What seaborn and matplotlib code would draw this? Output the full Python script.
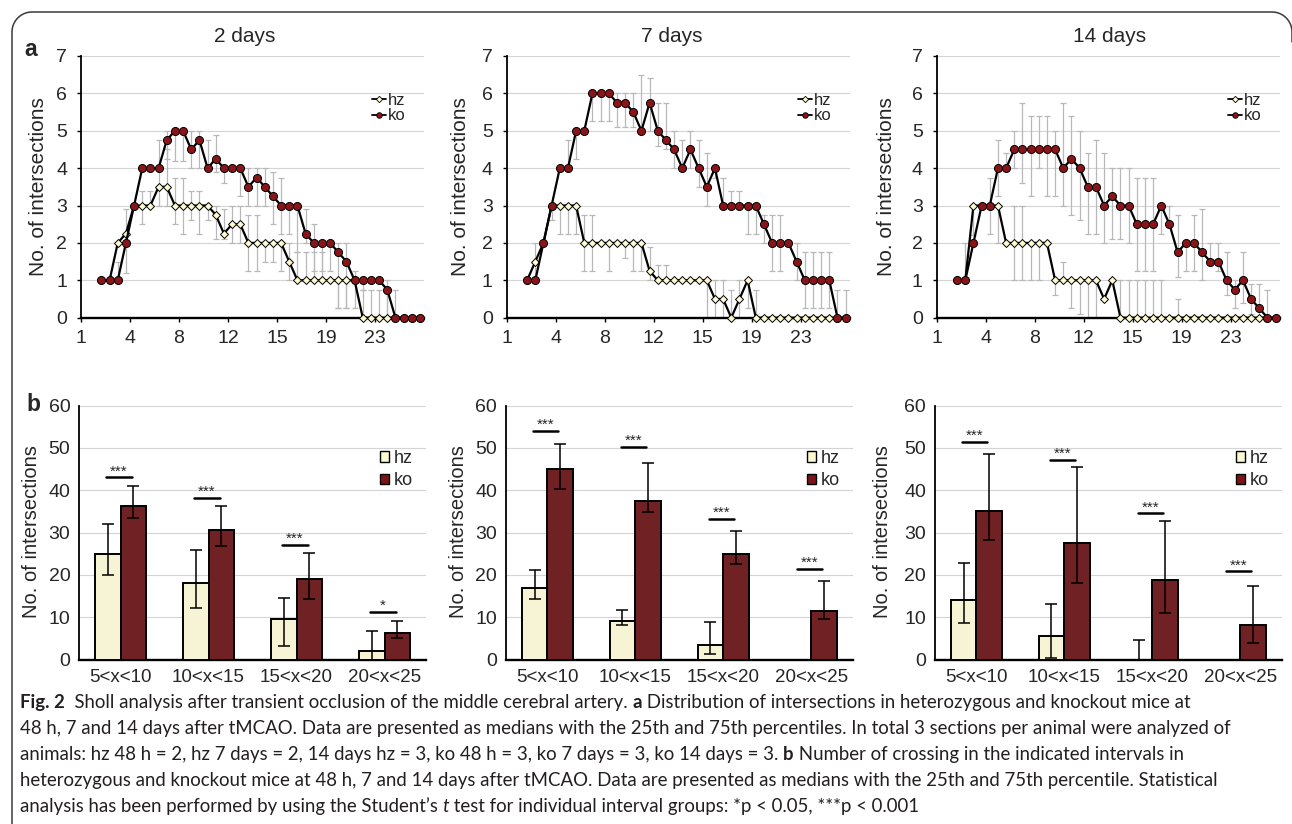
import numpy as np
import pandas as pd
import matplotlib
matplotlib.use('Agg')
import matplotlib.pyplot as plt
import seaborn as sns
from matplotlib.lines import Line2D
from matplotlib.patches import Patch

N = np.nan

# ---------------- data: panel a (Sholl profiles, medians + 25th/75th pct) ----
line_xticklabels = ['1', '4', '8', '12', '15', '19', '23']
panel_titles = ['2 days', '7 days', '14 days']

hz_2d = [1, 1, 2, 2.25, 3, 3, 3, 3.5, 3.5, 3,
         3, 3, 3, 3, 2.75, 2.25, 2.5, 2.5, 2, 2,
         2, 2, 2, 1.5, 1, 1, 1, 1, 1, 1,
         1, 1, 0, 0, 0, 0, 0, 0, 0, 0]
ko_2d = [1, 1, 1, 2, 3, 4, 4, 4, 4.75, 5,
         5, 4.5, 4.75, 4, 4.25, 4, 4, 4, 3.5, 3.75,
         3.5, 3.25, 3, 3, 3, 2.25, 2, 2, 2, 1.75,
         1.5, 1, 1, 1, 1, 0.75, 0, 0, 0, 0]
hz_2d_lo = [N, N, N, 1.2, N, 2.5, 3, 3, 3, 2.5,
            2.25, 2.6, 2.25, 2.6, 2.1, 2.1, 2, 2, 1.25, 1.25,
            1.5, 1.5, 1.25, 1, 1, 1, 1, 1, N, 0.25,
            0.25, N, 0, 0, 0, 0, N, N, N, N]
hz_2d_hi = [N, N, N, 2.9, N, 3.4, 3.4, 4.75, 4.5, 3.75,
            3.75, 3.4, 3.4, 3, 3, 2.9, 3, 3, 2.75, 2.75,
            2, 2, 2, 2, 1.75, 1.75, 1.75, 1.75, N, 1,
            1, N, 0.75, 0.75, 0.75, 0.75, N, N, N, N]
ko_2d_lo = [N, N, 1, N, N, N, N, N, 4.25, 4.2,
            4.2, 4, 4, 4, 3.9, 3.6, N, 3.25, 3, 3,
            3, 2.5, 2.25, 2.25, 1.75, 2, 1.25, 1.25, 1.25, 0.25,
            0.25, 0.25, 0.75, N, N, 0, 0, N, N, N]
ko_2d_hi = [N, N, 1.5, N, N, N, N, N, 5, 5,
            5, 5, 5, 4.75, 4.9, 4, N, 4, 4, 4,
            4, 3.9, 3.75, 3, 3, 2.9, 2.5, 2, 2, 2,
            2, 1.25, 1, N, N, 1, 0.75, N, N, N]

hz_7d = [1, 1.5, 2, 3, 3, 3, 3, 2, 2, 2,
         2, 2, 2, 2, 2, 1.25, 1, 1, 1, 1,
         1, 1, 1, 0.5, 0.5, 0, 0.5, 1, 0, 0,
         0, 0, 0, 0, 0, 0, 0, 0, 0, 0]
ko_7d = [1, 1, 2, 3, 4, 4, 5, 5, 6, 6,
         6, 5.75, 5.75, 5.5, 5, 5.75, 5, 4.75, 4.5, 4,
         4.5, 4, 3.5, 4, 3, 3, 3, 3, 3, 2.5,
         2, 2, 2, 1.5, 1, 1, 1, 1, 0, 0]
hz_7d_lo = [N, 1, N, 2.6, 2.25, 2.25, 2.25, 1.25, 1.25, N,
            1.25, N, 1.6, 1.25, 1.25, 1, 1, 1, N, N,
            N, N, 0, 0, 0, 0, 0, 0.25, 0, N,
            N, N, N, N, N, N, N, N, N, N]
hz_7d_hi = [N, 2, N, 3, 3, 3, 3, 2.75, 2.75, N,
            2, N, 2, 2, 2, 1.9, 1.4, 1.4, N, N,
            N, N, 1, 1, 1, 0.75, 1, 1, 0.75, N,
            N, N, N, N, N, N, N, N, N, N]
ko_7d_lo = [N, N, N, N, N, 4, 4.25, N, 5.25, 5.25,
            5.25, 5.1, 5.1, 5.1, 5, 5, 4.6, 4.5, 4, 4,
            4, 3.5, 3, 3.75, 3, 3, 3, 2.25, 2.25, 2,
            1.25, 1.25, 2, 1, 0.25, 0.25, 0.25, 0.25, 0, 0]
ko_7d_hi = [N, N, N, N, N, 4.75, 5, N, 6, 6,
            6, 6, 6, 6, 6.5, 6.4, 5.75, 5.75, 5, 4.75,
            5, 4.75, 4.4, 4, 3.75, 3.4, 3.4, 3, 3, 2.75,
            2.75, 2.75, 2, 2, 1.75, 1.75, 1.75, 1.75, 0.75, 0.75]

hz_14d = [1, 1, 3, 3, 3, 3, 2, 2, 2, 2,
          2, 2, 1, 1, 1, 1, 1, 1, 0.5, 1,
          0, 0, 0, 0, 0, 0, 0, 0, 0, 0,
          0, 0, 0, 0, 0, 0, 0, 0, 0, 0]
ko_14d = [1, 1, 2, 3, 3, 4, 4, 4.5, 4.5, 4.5,
          4.5, 4.5, 4.5, 4, 4.25, 4, 3.5, 3.5, 3, 3.25,
          3, 3, 2.5, 2.5, 2.5, 3, 2.5, 1.75, 2, 2,
          1.75, 1.5, 1.5, 1, 0.75, 1, 0.5, 0.25, 0, 0]
hz_14d_lo = [N, N, 2.2, N, N, 2, N, 1, 1, 1,
             1, N, 0.6, 1, 0.25, 0.1, 0, 0, N, N,
             0, 0, 0, 0, 0, 0, N, 0, N, N,
             N, N, N, N, N, N, N, N, N, N]
hz_14d_hi = [N, N, 3, N, N, 3, N, 3, 3, 2,
             2, N, 1, 1.5, 1, 1, 1, 1, N, N,
             1, 1, 1, 1, 1, 1, N, 0.5, N, N,
             N, N, N, N, N, N, N, N, N, N]
ko_14d_lo = [N, 1, N, N, 2.25, 3.25, 4, 4, 3.6, 3.25,
             4, 3.25, 3.25, 3, 2.75, 2.6, 2.25, 2.25, 2, 2.1,
             2.1, 2, 1.25, 1.25, 1.25, 2.25, 2.5, 1.1, 1.25, 1.25,
             1, 1.5, 1.25, 0.6, 0.25, 0.4, 0.1, 0, 0, N]
ko_14d_hi = [N, 2, N, N, 3.75, 4.75, 4.4, 5, 5.75, 5.4,
             5.4, 5.4, 5, 5.75, 5.4, 5, 4.4, 4.75, 4.4, 4,
             4, 4, 3.75, 3.75, 3.75, 3, 3, 2.75, 2, 2.75,
             2.9, 2, 2, 1.75, 1, 1.75, 0.9, 0.9, 0.75, N]

# ---------------- data: panel b (crossings per interval) --------------------
intervals = ['5<x<10', '10<x<15', '15<x<20', '20<x<25']

bar_hz_2d = [25, 18, 9.5, 2]
bar_hz_2d_lo = [20, 12.2, 3.2, 0]
bar_hz_2d_hi = [32, 25.9, 14.5, 6.8]
bar_ko_2d = [36.2, 30.5, 19, 6.3]
bar_ko_2d_lo = [33.5, 26.9, 14.3, 5.1]
bar_ko_2d_hi = [41, 36.3, 25.2, 9]
sig_y_2d = [43, 38.2, 27.1, 11.3]
sig_txt_2d = ['***', '***', '***', '*']

bar_hz_7d = [17, 9.2, 3.4, 0]
bar_hz_7d_lo = [14.3, 8.2, 1.2, N]
bar_hz_7d_hi = [21.1, 11.6, 8.9, N]
bar_ko_7d = [45, 37.5, 25, 11.5]
bar_ko_7d_lo = [40.3, 34.8, 22.6, 9.5]
bar_ko_7d_hi = [50.8, 46.4, 30.3, 18.5]
sig_y_7d = [53.9, 50.2, 33.1, 21.3]
sig_txt_7d = ['***', '***', '***', '***']

bar_hz_14d = [14, 5.5, 0, 0]
bar_hz_14d_lo = [8.6, 0.4, 0, N]
bar_hz_14d_hi = [22.8, 13.1, 4.5, N]
bar_ko_14d = [35, 27.5, 18.7, 8.2]
bar_ko_14d_lo = [28.3, 18, 10.9, 4]
bar_ko_14d_hi = [48.6, 45.4, 32.7, 17.3]
sig_y_14d = [51.4, 47.2, 34.5, 20.8]
sig_txt_14d = ['***', '***', '***', '***']

caption_lines = [
    [("Fig. 2", 'bold', 'normal'),
     ("  Sholl analysis after transient occlusion of the middle cerebral artery. ", 'normal', 'normal'),
     ("a", 'bold', 'normal'),
     (" Distribution of intersections in heterozygous and knockout mice at", 'normal', 'normal')],
    [("48 h, 7 and 14 days after tMCAO. Data are presented as medians with the 25th and 75th "
      "percentiles. In total 3 sections per animal were analyzed of", 'normal', 'normal')],
    [("animals: hz 48 h = 2, hz 7 days = 2, 14 days hz = 3, ko 48 h = 3, ko 7 days = 3, "
      "ko 14 days = 3. ", 'normal', 'normal'),
     ("b", 'bold', 'normal'),
     (" Number of crossing in the indicated intervals in", 'normal', 'normal')],
    [("heterozygous and knockout mice at 48 h, 7 and 14 days after tMCAO. Data are presented as "
      "medians with the 25th and 75th percentile. Statistical", 'normal', 'normal')],
    [("analysis has been performed by using the Student\u2019s ", 'normal', 'normal'),
     ("t", 'normal', 'italic'),
     (" test for individual interval groups: *p < 0.05, ***p < 0.001", 'normal', 'normal')],
]

# ---------------- style ------------------------------------------------------
HZ_MARK = '#fffbd0'
KO_MARK = '#8a1519'
HZ_BAR = '#fbf9cf'
KO_BAR = '#7c1417'
GRID = '#d4d4d4'
W, H = 1292, 824

sns.set_theme(style='white')
plt.rcParams['font.family'] = ['Liberation Sans', 'DejaVu Sans']

fig = plt.figure(figsize=(W / 100, H / 100), dpi=100, facecolor='white')


def px_axes(left, top, right, bottom):
    return fig.add_axes([left / W, 1 - bottom / H, (right - left) / W, (bottom - top) / H])


def style_axes(ax):
    ax.grid(axis='y', color=GRID, lw=0.8)
    ax.grid(axis='x', visible=False)
    ax.set_axisbelow(True)
    for s in ('top', 'right'):
        ax.spines[s].set_visible(False)
    ax.spines['left'].set_color('black')
    ax.spines['left'].set_linewidth(1.3)
    ax.spines['bottom'].set_color('black')
    ax.spines['bottom'].set_linewidth(1.7)


def draw_sholl(ax, hz, ko, hz_lo, hz_hi, ko_lo, ko_hi):
    x = np.arange(len(hz))
    for vals, lo, hi in ((hz, hz_lo, hz_hi), (ko, ko_lo, ko_hi)):
        vals, lo, hi = (np.asarray(a, float) for a in (vals, lo, hi))
        m = ~np.isnan(lo)
        ax.errorbar(x[m], vals[m],
                    yerr=[np.clip(vals[m] - lo[m], 0, None), np.clip(hi[m] - vals[m], 0, None)],
                    fmt='none', ecolor='#b8b8b8', elinewidth=0.9, capsize=2.2,
                    capthick=0.9, zorder=2)
    sns.lineplot(x=x, y=hz, ax=ax, color='black', lw=1.6, marker='D', markersize=3.9,
                 markerfacecolor=HZ_MARK, markeredgecolor='black', markeredgewidth=0.7,
                 clip_on=False, zorder=3)
    sns.lineplot(x=x, y=ko, ax=ax, color='black', lw=1.6, marker='o', markersize=5.8,
                 markerfacecolor=KO_MARK, markeredgecolor='black', markeredgewidth=0.7,
                 clip_on=False, zorder=4)
    ax.set_xlim(-2.5, 39.5)
    ax.set_ylim(0, 7)
    ax.set_xticks([-2.5, 3.5, 9.5, 15.5, 21.5, 27.5, 33.5])
    ax.set_xticklabels(line_xticklabels)
    ax.set_yticks(range(8))
    style_axes(ax)
    ax.tick_params(axis='x', bottom=True, length=3, width=1, color='black', pad=6, labelsize=14)
    ax.tick_params(axis='y', left=True, length=3, width=1, color='black', pad=7, labelsize=14)
    handles = [Line2D([0], [0], color='black', lw=1.3, marker='D', ms=3.2, mfc=HZ_MARK,
                      mec='black', mew=0.6),
               Line2D([0], [0], color='black', lw=1.3, marker='o', ms=4, mfc=KO_MARK,
                      mec='black', mew=0.6)]
    ax.legend(handles, ['hz', 'ko'], loc='upper left', bbox_to_anchor=(0.848, 0.86),
              frameon=False, fontsize=12, handlelength=0.85, handletextpad=0.1,
              labelspacing=0.05, borderpad=0, borderaxespad=0)


def draw_bars(ax, hz, ko, hz_lo, hz_hi, ko_lo, ko_hi, sig_y, sig_txt):
    df = pd.DataFrame({'interval': intervals * 2,
                       'genotype': ['hz'] * 4 + ['ko'] * 4,
                       'value': list(hz) + list(ko)})
    sns.barplot(data=df, x='interval', y='value', hue='genotype',
                palette={'hz': HZ_BAR, 'ko': KO_BAR}, width=0.58, edgecolor='black',
                linewidth=1.4, errorbar=None, legend=False, ax=ax, zorder=3)
    bars = sorted(ax.patches, key=lambda p: p.get_x())
    vals = [v for pair in zip(hz, ko) for v in pair]
    los = [v for pair in zip(hz_lo, ko_lo) for v in pair]
    his = [v for pair in zip(hz_hi, ko_hi) for v in pair]
    for p, v, lo, hi in zip(bars, vals, los, his):
        if np.isnan(lo):
            continue
        cx = p.get_x() + p.get_width() / 2
        ax.errorbar(cx, v, yerr=[[max(v - lo, 0)], [max(hi - v, 0)]], fmt='none',
                    ecolor='black', elinewidth=1.1, capsize=4.5, capthick=1.1, zorder=5)
    for i, (y, t) in enumerate(zip(sig_y, sig_txt)):
        ax.plot([i - 0.165, i + 0.125], [y, y], color='black', lw=1.8, zorder=5)
        ax.text(i - 0.02, y + 0.5, t, ha='center', va='baseline', fontsize=11, zorder=5)
    ax.set_ylim(0, 60)
    ax.set_yticks(range(0, 61, 10))
    ax.set_xlabel('')
    ax.set_ylabel('')
    style_axes(ax)
    ax.tick_params(axis='x', bottom=False, length=0, pad=7, labelsize=13.5)
    ax.tick_params(axis='y', left=False, length=0, pad=6.5, labelsize=14)
    handles = [Patch(facecolor=HZ_BAR, edgecolor='black', lw=1),
               Patch(facecolor=KO_BAR, edgecolor='black', lw=1)]
    ax.legend(handles, ['hz', 'ko'], loc='upper left', bbox_to_anchor=(0.868, 0.825),
              frameon=False, fontsize=13, handlelength=0.5, handleheight=0.5,
              handletextpad=0.25, labelspacing=0.3, borderpad=0, borderaxespad=0)


# ---------------- panel a ---------------------------------------------------
top_lefts = [81, 506.7, 936.7]
sholl_sets = [
    (hz_2d, ko_2d, hz_2d_lo, hz_2d_hi, ko_2d_lo, ko_2d_hi),
    (hz_7d, ko_7d, hz_7d_lo, hz_7d_hi, ko_7d_lo, ko_7d_hi),
    (hz_14d, ko_14d, hz_14d_lo, hz_14d_hi, ko_14d_lo, ko_14d_hi),
]
title_x = [245, 672, 1110]
ylab_a_x = [39, 460, 886]
for left, data, tx, yx, title in zip(top_lefts, sholl_sets, title_x, ylab_a_x, panel_titles):
    ax = px_axes(left, 56, left + 343, 317.7)
    draw_sholl(ax, *data)
    fig.text(tx / W, 1 - 37 / H, title, ha='center', va='center', fontsize=15)
    fig.text(yx / W, 1 - 187 / H, 'No. of intersections', rotation=90,
             ha='center', va='center', fontsize=15)

# ---------------- panel b ---------------------------------------------------
bot_lefts = [79.3, 506, 935]
bar_sets = [
    (bar_hz_2d, bar_ko_2d, bar_hz_2d_lo, bar_hz_2d_hi, bar_ko_2d_lo, bar_ko_2d_hi,
     sig_y_2d, sig_txt_2d),
    (bar_hz_7d, bar_ko_7d, bar_hz_7d_lo, bar_hz_7d_hi, bar_ko_7d_lo, bar_ko_7d_hi,
     sig_y_7d, sig_txt_7d),
    (bar_hz_14d, bar_ko_14d, bar_hz_14d_lo, bar_hz_14d_hi, bar_ko_14d_lo, bar_ko_14d_hi,
     sig_y_14d, sig_txt_14d),
]
ylab_b_x = [32, 458, 883]
for left, data, yx in zip(bot_lefts, bar_sets, ylab_b_x):
    ax = px_axes(left, 405.5, left + 346.5, 659.5)
    draw_bars(ax, *data)
    fig.text(yx / W, 1 - 532 / H, 'No. of intersections', rotation=90,
             ha='center', va='center', fontsize=14.5)

fig.text(31 / W, 1 - 49 / H, 'a', ha='center', va='center', fontsize=16.5, fontweight='bold')
fig.text(33 / W, 1 - 405 / H, 'b', ha='center', va='center', fontsize=16.5, fontweight='bold')

# ---------------- frame (open at bottom, rounded top corners) ---------------
r = 20
t1 = np.linspace(np.pi, np.pi / 2, 20)
t2 = np.linspace(np.pi / 2, 0, 20)
fx = np.concatenate([[12], 32 + r * np.cos(t1), 1272 + r * np.cos(t2), [1292]])
fy = np.concatenate([[0], (H - 32) + r * np.sin(t1), (H - 32) + r * np.sin(t2), [H - 42]])
fig.add_artist(Line2D(fx / 100, fy / 100, transform=fig.dpi_scale_trans,
                      color='#3a3a3a', lw=1.1))

# ---------------- caption ---------------------------------------------------
CAP_FONT = ['Lato', 'DejaVu Sans']
renderer = fig.canvas.get_renderer()


def text_width(s, size, weight, style):
    kw = dict(fontsize=size, fontweight=weight, fontstyle=style, family=CAP_FONT)
    a = fig.text(0, 0, s + '|', **kw)
    b = fig.text(0, 0, '|', **kw)
    w = a.get_window_extent(renderer).width - b.get_window_extent(renderer).width
    a.remove()
    b.remove()
    return w


ref_size = 12
line2_w = sum(text_width(s, ref_size, w, st) for s, w, st in caption_lines[1])
cap_size = ref_size * 1207 / line2_w
baselines = [708, 734, 760, 786, 812]
for segs, by in zip(caption_lines, baselines):
    x = 20.0
    for s, w, st in segs:
        fig.text(x / W, 1 - by / H, s, fontsize=cap_size, fontweight=w, fontstyle=st,
                 family=CAP_FONT, color='#231f20', ha='left', va='baseline')
        x += text_width(s, cap_size, w, st)

fig.savefig('out.png', dpi=100, facecolor='white')
